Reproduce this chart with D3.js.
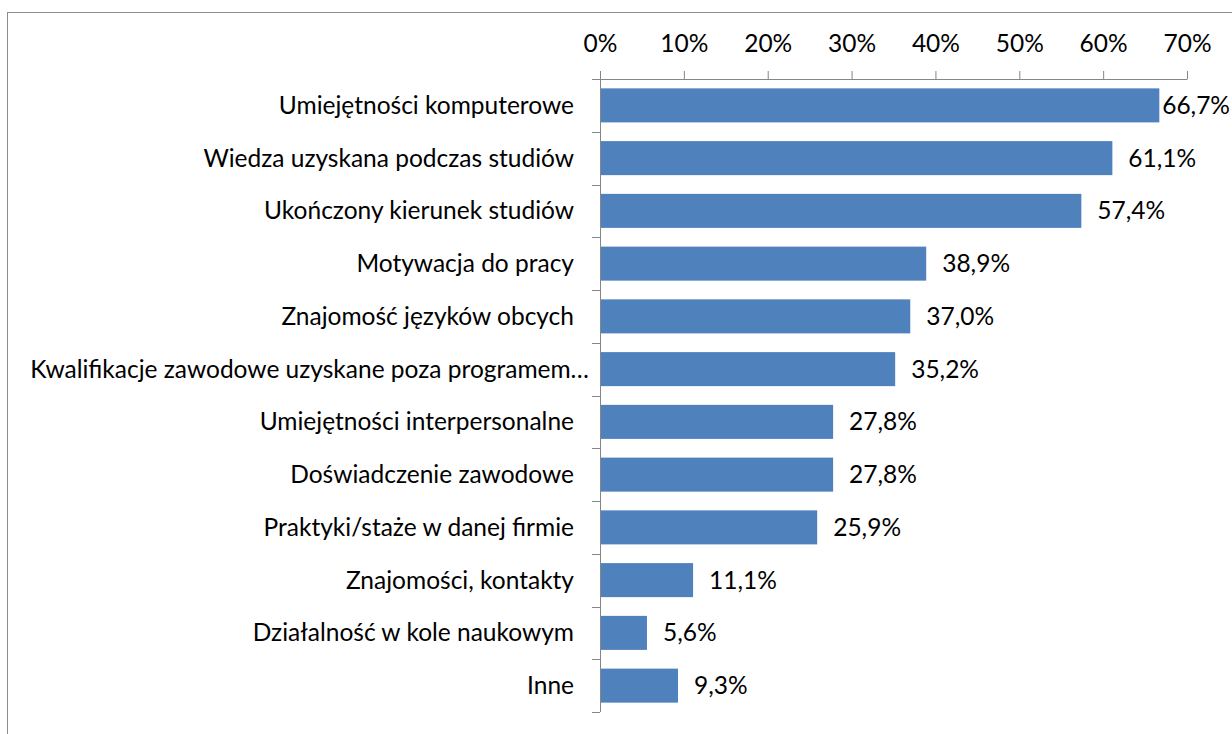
<!DOCTYPE html>
<html><head><meta charset="utf-8">
<script src="https://cdn.jsdelivr.net/npm/d3@7"></script>
<style>
html,body{margin:0;padding:0;background:#fff;}
text{font-family:Lato, "Liberation Sans", sans-serif;fill:#000;}
</style></head>
<body>
<svg id="chart" width="1232" height="734"></svg>
<script>
const categories = [
  "Umiejętności komputerowe",
  "Wiedza uzyskana podczas studiów",
  "Ukończony kierunek studiów",
  "Motywacja do pracy",
  "Znajomość języków obcych",
  "Kwalifikacje zawodowe uzyskane poza programem…",
  "Umiejętności interpersonalne",
  "Doświadczenie zawodowe",
  "Praktyki/staże w danej firmie",
  "Znajomości, kontakty",
  "Działalność w kole naukowym",
  "Inne"
];
const values = [66.7, 61.1, 57.4, 38.9, 37.0, 35.2, 27.8, 27.8, 25.9, 11.1, 5.6, 9.3];
const valueLabels = ["66,7%","61,1%","57,4%","38,9%","37,0%","35,2%","27,8%","27,8%","25,9%","11,1%","5,6%","9,3%"];
const tickValues = [0,10,20,30,40,50,60,70];
const tickLabels = ["0%","10%","20%","30%","40%","50%","60%","70%"];

(function(){
const svg = d3.select("#chart");
const W = 1232, H = 734;
const pL = 600, pR = 1187, pT = 79, pB = 712;
const fontSize = 24.5;

// frame
svg.append("rect").attr("x",7.5).attr("y",12.5).attr("width",W).attr("height",H)
  .attr("fill","none").attr("stroke","#8c8c8c").attr("stroke-width",1);

const x = d3.scaleLinear().domain([0,70]).range([pL,pR]);
const y = d3.scaleBand().domain(categories).range([pT,pB]).paddingInner(0.355).paddingOuter(0.1775);

// bars
svg.append("g").selectAll("rect").data(values).join("rect")
  .attr("x", x(0))
  .attr("y", (d,i)=>y(categories[i]))
  .attr("width", d=>x(d)-x(0))
  .attr("height", y.bandwidth())
  .attr("fill","#4F81BD");

// top axis
const xAxis = d3.axisTop(x).tickValues(tickValues).tickFormat((d,i)=>tickLabels[i]).tickSize(8).tickSizeOuter(0).tickPadding(19);
const gx = svg.append("g").attr("transform",`translate(0,${pT})`).call(xAxis);
gx.select(".domain").attr("stroke","#868686");
gx.selectAll(".tick line").attr("stroke","#868686");
gx.selectAll(".tick text").style("font-size",fontSize+"px").style("font-family","Lato").attr("fill","#000");

// left axis line and ticks at band boundaries
svg.append("line").attr("x1",pL+0.5).attr("x2",pL+0.5).attr("y1",pT).attr("y2",pB).attr("stroke","#868686");
const step = (pB-pT)/categories.length;
const bounds = d3.range(categories.length+1).map(i=>pT+i*step);
svg.append("g").selectAll("line").data(bounds).join("line")
  .attr("x1",pL-8).attr("x2",pL).attr("y1",d=>Math.round(d)+0.5).attr("y2",d=>Math.round(d)+0.5)
  .attr("stroke","#868686");

// category labels
svg.append("g").selectAll("text").data(categories).join("text")
  .attr("x", d=> d.endsWith("…") ? pL-11 : pL-26)
  .attr("y", d=>y(d)+y.bandwidth()/2)
  .attr("dy","0.35em")
  .attr("text-anchor","end")
  .style("font-size",fontSize+"px")
  .text(d=>d);

// value labels
svg.append("g").selectAll("text").data(values).join("text")
  .attr("y",(d,i)=>y(categories[i])+y.bandwidth()/2)
  .attr("dy","0.35em")
  .style("font-size",fontSize+"px")
  .text((d,i)=>valueLabels[i])
  .each(function(d){
    const w = this.getComputedTextLength();
    const xp = Math.min(x(d)+16, W-2-w);
    d3.select(this).attr("x", Math.max(xp, x(d)));
  });
})();
</script>
</body></html>
